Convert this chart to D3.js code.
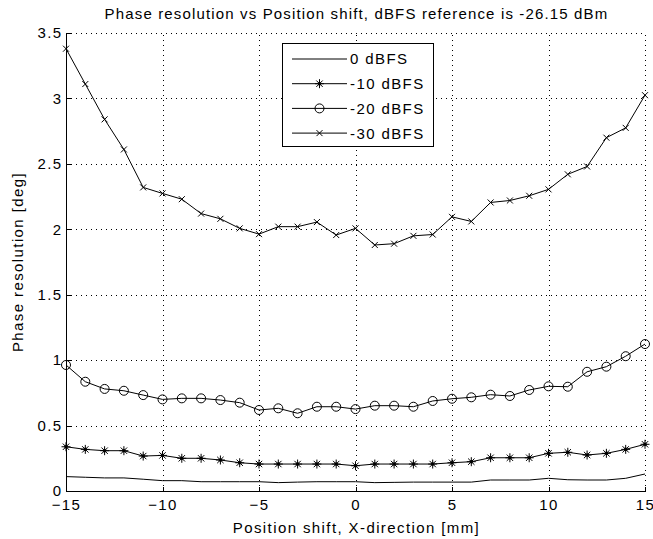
<!DOCTYPE html>
<html><head><meta charset="utf-8">
<script src="https://cdn.jsdelivr.net/npm/d3@7"></script>
<style>
body{margin:0;background:#fff;}
text{font-family:"Liberation Sans",Arial,sans-serif;fill:#000;}
</style></head>
<body><svg id="c" width="653" height="539"></svg>
<script>
const xPos = [-15,-14,-13,-12,-11,-10,-9,-8,-7,-6,-5,-4,-3,-2,-1,0,1,2,3,4,5,6,7,8,9,10,11,12,13,14,15];
const s0 = [0.11,0.105,0.1,0.1,0.09,0.079,0.079,0.071,0.071,0.071,0.071,0.064,0.068,0.071,0.071,0.071,0.064,0.066,0.068,0.068,0.068,0.068,0.084,0.084,0.084,0.097,0.086,0.084,0.084,0.097,0.13];
const s10 = [0.338,0.318,0.308,0.308,0.267,0.272,0.25,0.25,0.237,0.216,0.206,0.206,0.206,0.206,0.206,0.193,0.206,0.206,0.206,0.206,0.216,0.224,0.254,0.254,0.254,0.288,0.296,0.275,0.288,0.318,0.357];
const s20 = [0.963,0.835,0.78,0.766,0.733,0.70,0.708,0.708,0.695,0.675,0.619,0.632,0.594,0.644,0.644,0.626,0.652,0.652,0.644,0.688,0.705,0.716,0.736,0.726,0.772,0.80,0.797,0.911,0.95,1.03,1.123];
const s30 = [3.38,3.11,2.84,2.61,2.32,2.274,2.23,2.12,2.08,2.007,1.963,2.02,2.02,2.055,1.956,2.007,1.88,1.89,1.95,1.96,2.095,2.06,2.205,2.22,2.256,2.305,2.42,2.48,2.70,2.775,3.025];
const seriesNames = ["0 dBFS","-10 dBFS","-20 dBFS","-30 dBFS"];
const seriesMarkers = ["none","star","circle","x"];
const xTicks = [-15,-10,-5,0,5,10,15];
const yTicks = [0,0.5,1,1.5,2,2.5,3,3.5];
const titleText = "Phase resolution vs Position shift, dBFS reference is -26.15 dBm";
const xLabel = "Position shift, X-direction [mm]";
const yLabel = "Phase resolution [deg]";

const L=66, R=645, T=33, B=491;
const FS = "15px", LS = "1.4px";
const svg = d3.select("#c");
const x = d3.scaleLinear().domain([-15,15]).range([L,R]);
const y = d3.scaleLinear().domain([0,3.5]).range([B,T]);

// grid
const g = svg.append("g").attr("shape-rendering","crispEdges");
g.selectAll(".vg").data(xTicks.slice(1)).enter().append("line")
 .attr("x1",d=>Math.round(x(d))+0.5).attr("x2",d=>Math.round(x(d))+0.5).attr("y1",B).attr("y2",T)
 .attr("stroke","#000").attr("stroke-dasharray","1,4");
g.selectAll(".hg").data(yTicks.slice(1)).enter().append("line")
 .attr("y1",d=>Math.round(y(d))+0.5).attr("y2",d=>Math.round(y(d))+0.5).attr("x1",L).attr("x2",R)
 .attr("stroke","#000").attr("stroke-dasharray","1,4");

// axes
const xa = svg.append("g").attr("transform",`translate(0,${B+0.5})`)
 .call(d3.axisBottom(x).tickValues(xTicks).tickSizeInner(-5).tickSizeOuter(0).tickPadding(8).tickFormat(d3.format("d")));
const ya = svg.append("g").attr("transform",`translate(${L+0.5},0)`)
 .call(d3.axisLeft(y).tickValues(yTicks).tickSizeInner(-5).tickSizeOuter(0).tickPadding(4).tickFormat(d=>String(d)));
[xa,ya].forEach(a=>{
  a.selectAll("path,line").attr("stroke","#000").attr("shape-rendering","crispEdges");
  a.selectAll("text").attr("font-size",FS).attr("font-family","'Liberation Sans',Arial,sans-serif").attr("fill","#000").style("letter-spacing",LS);
});
xa.select(".domain").attr("d",`M${L},0H${R}`);
ya.select(".domain").attr("d",`M0,${B}V${T}`);

// lines
const all = [s0,s10,s20,s30];
const line = d3.line().x((d,i)=>x(xPos[i])).y(d=>y(d));
function marker(sel, type, cx, cy){
  if(type==="circle"){
    sel.append("circle").attr("cx",cx).attr("cy",cy).attr("r",4.5).attr("fill","none").attr("stroke","#000").attr("stroke-width",1);
  } else if(type==="x"){
    const s=3;
    sel.append("path").attr("d",`M${cx-s},${cy-s}L${cx+s},${cy+s}M${cx-s},${cy+s}L${cx+s},${cy-s}`).attr("stroke","#000").attr("stroke-width",1).attr("fill","none");
  } else if(type==="star"){
    const s=4.5, d=3.2;
    sel.append("path").attr("d",`M${cx},${cy-s}V${cy+s}M${cx-s},${cy}H${cx+s}M${cx-d},${cy-d}L${cx+d},${cy+d}M${cx-d},${cy+d}L${cx+d},${cy-d}`).attr("stroke","#000").attr("stroke-width",1).attr("fill","none");
    sel.append("circle").attr("cx",cx).attr("cy",cy).attr("r",1.8).attr("fill","#000");
  }
}
all.forEach((data,k)=>{
  svg.append("path").datum(data).attr("d",line).attr("fill","none").attr("stroke","#000").attr("stroke-width",1);
  if(seriesMarkers[k]!=="none"){
    const mg = svg.append("g");
    data.forEach((v,i)=>marker(mg, seriesMarkers[k], x(xPos[i]), y(v)));
  }
});

// legend
const lg = svg.append("g");
lg.append("rect").attr("x",282.5).attr("y",43.5).attr("width",151).attr("height",103).attr("fill","#fff").attr("stroke","#000").attr("shape-rendering","crispEdges");
seriesNames.forEach((n,k)=>{
  const ry = 59 + k*24.7;
  lg.append("line").attr("x1",292).attr("x2",347).attr("y1",ry).attr("y2",ry).attr("stroke","#000");
  if(seriesMarkers[k]!=="none") marker(lg, seriesMarkers[k], 319.5, ry);
  lg.append("text").attr("x",350).attr("y",ry).attr("dy","0.36em").attr("font-size",FS).style("letter-spacing",LS).text(n);
});

// titles
svg.append("text").attr("x",(L+R)/2+1).attr("y",19).attr("text-anchor","middle").attr("font-size",FS).style("letter-spacing","1.15px").text(titleText);
svg.append("text").attr("x",(L+R)/2+1).attr("y",533).attr("text-anchor","middle").attr("font-size",FS).style("letter-spacing",LS).text(xLabel);
svg.append("text").attr("transform",`translate(23,${(T+B)/2}) rotate(-90)`).attr("text-anchor","middle").attr("font-size",FS).style("letter-spacing",LS).text(yLabel);
</script></body></html>
